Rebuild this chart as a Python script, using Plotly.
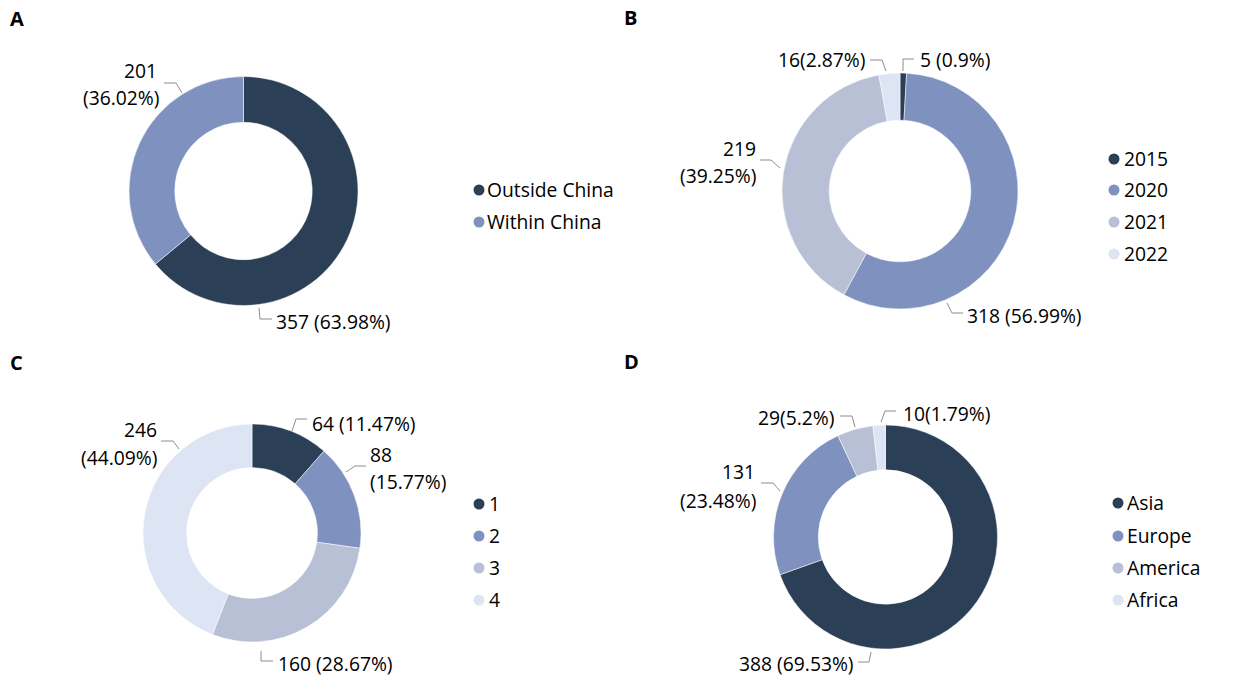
import plotly.graph_objects as go

# chart data
labels_a = ['Outside China', 'Within China']
values_a = [357, 201]
pct_a = ['63.98', '36.02']

labels_b = ['2015', '2020', '2021', '2022']
values_b = [5, 318, 219, 16]
pct_b = ['0.9', '56.99', '39.25', '2.87']

labels_c = ['1', '2', '3', '4']
values_c = [64, 88, 160, 246]
pct_c = ['11.47', '15.77', '28.67', '44.09']

labels_d = ['Asia', 'Europe', 'America', 'Africa']
values_d = [388, 131, 29, 10]
pct_d = ['69.53', '23.48', '5.2', '1.79']

colors = ['#2b4057', '#7f92bf', '#b7c0d4', '#dde4f3']

W = 1248
H = 677
FONT = 'Open Sans'
FONT_SIZE = 19.3


def px(x):
    return x / W


def py(y):
    return 1 - y / H


fig = go.Figure()
annotations = []
shapes = []


def add_text(x, y, text, anchor='left', size=FONT_SIZE, bold=False):
    annotations.append(dict(
        x=px(x), y=py(y), xref='paper', yref='paper', text=f'<b>{text}</b>' if bold else text,
        showarrow=False, xanchor=anchor, yanchor='middle', borderpad=0, borderwidth=0,
        font=dict(family=FONT, size=size, color='#000000'),
    ))


def add_donut(labels, values, cx, cy, r, hole):
    fig.add_trace(go.Pie(
        labels=labels, values=values, sort=False, direction='clockwise', rotation=0,
        hole=hole, textinfo='none', showlegend=False, automargin=False,
        marker=dict(colors=colors, line=dict(color='white', width=0.5)),
        domain=dict(x=[px(cx - r), px(cx + r)], y=[py(cy + r), py(cy - r)]),
    ))


def add_legend(labels, dot_x, text_x, ys):
    for i, (lab, y) in enumerate(zip(labels, ys)):
        shapes.append(dict(
            type='circle', xref='paper', yref='paper', fillcolor=colors[i], line_width=0,
            x0=px(dot_x - 5.5), x1=px(dot_x + 5.5), y0=py(y + 5.5), y1=py(y - 5.5),
        ))
        add_text(text_x, y - 0.5, lab)


def add_leader(points):
    # elbow line from the label to the ring
    path = 'M ' + ' L '.join(f'{px(x)},{py(y)}' for x, y in points)
    shapes.append(dict(type='path', path=path, xref='paper', yref='paper',
                       line=dict(color='#8c8c8c', width=1)))


# A
add_donut(labels_a, values_a, 243.5, 191, 114.5, 0.6)
add_legend(labels_a, 479, 487, [190, 222])
add_text(157, 70, str(values_a[1]), 'right')
add_text(159, 97, f'({pct_a[1]}%)', 'right')
add_leader([(164, 83), (176, 83), (182, 93)])
add_text(276, 321, f'{values_a[0]} ({pct_a[0]}%)')
add_leader([(259, 308), (260, 319), (272, 319)])

# B
add_donut(labels_b, values_b, 900, 191, 118, 0.6)
add_legend(labels_b, 1114, 1124, [159, 190, 222, 254])
add_text(920, 60, f'{values_b[0]} ({pct_b[0]}%)')
add_leader([(914, 59), (903, 59), (903, 71)])
add_text(967, 315, f'{values_b[1]} ({pct_b[1]}%)')
add_leader([(947, 303), (952, 313), (963, 313)])
add_text(756, 149, str(values_b[2]), 'right')
add_text(756, 176, f'({pct_b[2]}%)', 'right')
add_leader([(760, 160), (771, 160), (780, 168)])
add_text(866, 60, f'{values_b[3]}({pct_b[3]}%)', 'right')
add_leader([(870, 60), (882, 60), (886, 71)])

# C
add_donut(labels_c, values_c, 252, 533, 109, 0.6)
add_legend(labels_c, 479, 489, [504, 536, 568, 600])
add_text(312, 423, f'{values_c[0]} ({pct_c[0]}%)')
add_leader([(307, 419), (296, 419), (292, 431)])
add_text(370, 454, str(values_c[1]))
add_text(370, 482, f'({pct_c[1]}%)')
add_leader([(366, 466), (355, 466), (346, 472)])
add_text(278, 663, f'{values_c[2]} ({pct_c[2]}%)')
add_leader([(261, 651), (261, 661), (273, 661)])
add_text(157, 429, str(values_c[3]), 'right')
add_text(157, 457, f'({pct_c[3]}%)', 'right')
add_leader([(161, 441), (173, 441), (179, 449)])

# D
add_donut(labels_d, values_d, 885.5, 537, 112, 0.6)
add_legend(labels_d, 1118, 1127, [503, 536, 568, 600])
add_text(854, 663, f'{values_d[0]} ({pct_d[0]}%)', 'right')
add_leader([(858, 662), (869, 662), (871, 652)])
add_text(755, 471, str(values_d[1]), 'right')
add_text(756, 500, f'({pct_d[1]}%)', 'right')
add_leader([(761, 483), (773, 483), (780, 491)])
add_text(834, 417, f'{values_d[2]}({pct_d[2]}%)', 'right')
add_leader([(840, 416), (852, 416), (855, 427)])
add_text(903, 413, f'{values_d[3]}({pct_d[3]}%)')
add_leader([(896, 411), (885, 411), (881, 422)])

# panel letters
add_text(10, 19, 'A', size=20, bold=True)
add_text(624, 18, 'B', size=20, bold=True)
add_text(10, 362, 'C', size=20, bold=True)
add_text(624, 361, 'D', size=20, bold=True)

fig.update_layout(
    width=W,
    height=H,
    margin=dict(l=0, r=0, t=0, b=0),
    paper_bgcolor='white',
    annotations=annotations,
    shapes=shapes,
)

# the default body margin would push the figure 8px off the page
fig.write_html("out.html", config=dict(displayModeBar=False),
               post_script="document.body.style.margin = '0';")
